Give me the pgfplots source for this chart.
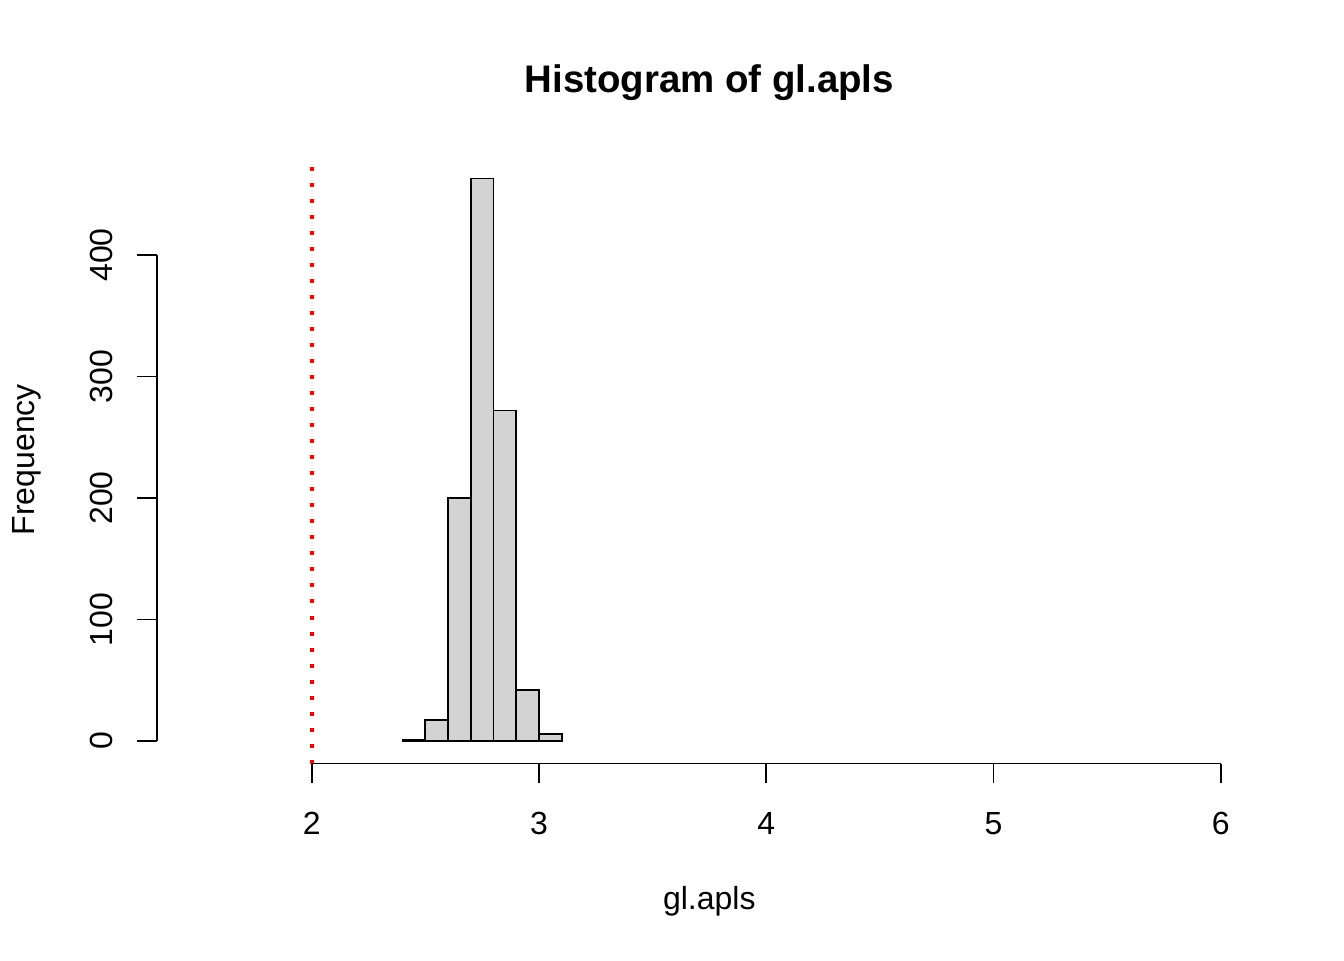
\documentclass[border=0pt]{standalone}
\usepackage{fontspec}
\setmainfont{Liberation Sans}
\usepackage{pgfplots}
\pgfplotsset{compat=1.18}
\newcommand\rfont{\fontsize{12}{14.4}\selectfont}
\definecolor{histgray}{RGB}{211,211,211}
\begin{document}
\begin{tikzpicture}
\path[use as bounding box] (0,0) rectangle (504pt,360pt);
\begin{axis}[
  at={(58.76pt,73.69pt)}, anchor=south west,
  scale only axis, width=414.56pt, height=227.8pt,
  xmin=1.318, xmax=6.182, ymin=-18.52, ymax=481.52,
  axis lines*=left, axis line style={draw=none},
  clip=false,
  xtick={2,3,4,5,6}, xticklabels={2,3,4,5,6},
  ytick={0,100,200,300,400}, yticklabels={0,100,200,300,400},
  tick align=outside, major tick length=7.3pt,
  tick style={black, line width=0.7pt},
  xticklabel style={font=\rfont, anchor=base, yshift=-19.2pt},
  yticklabel style={font=\rfont, xshift=-9.35pt, rotate=90, anchor=base},
]
\addplot[ybar interval, fill=histgray, draw=black, line width=0.7pt]
  coordinates {(2.4,1) (2.5,17) (2.6,200) (2.7,463) (2.8,272) (2.9,42) (3.0,6) (3.1,0)};
\addplot[red, line width=1.5pt, dash pattern=on 1.5pt off 4.5pt]
  coordinates {(2,-18.52) (2,481.52)};
\draw[black, line width=0.7pt] (axis cs:2,-18.52) -- (axis cs:6,-18.52);
\draw[black, line width=0.7pt] (axis cs:1.318,0) -- (axis cs:1.318,400);
\end{axis}
\node[anchor=base, font=\fontsize{14.4}{17}\selectfont\bfseries] at (266pt,325.2pt) {Histogram of gl.apls};
\node[anchor=base, font=\rfont] at (266pt,18.8pt) {gl.apls};
\node[anchor=base, rotate=90, font=\rfont] at (12.9pt,187.6pt) {Frequency};
\end{tikzpicture}
\end{document}
